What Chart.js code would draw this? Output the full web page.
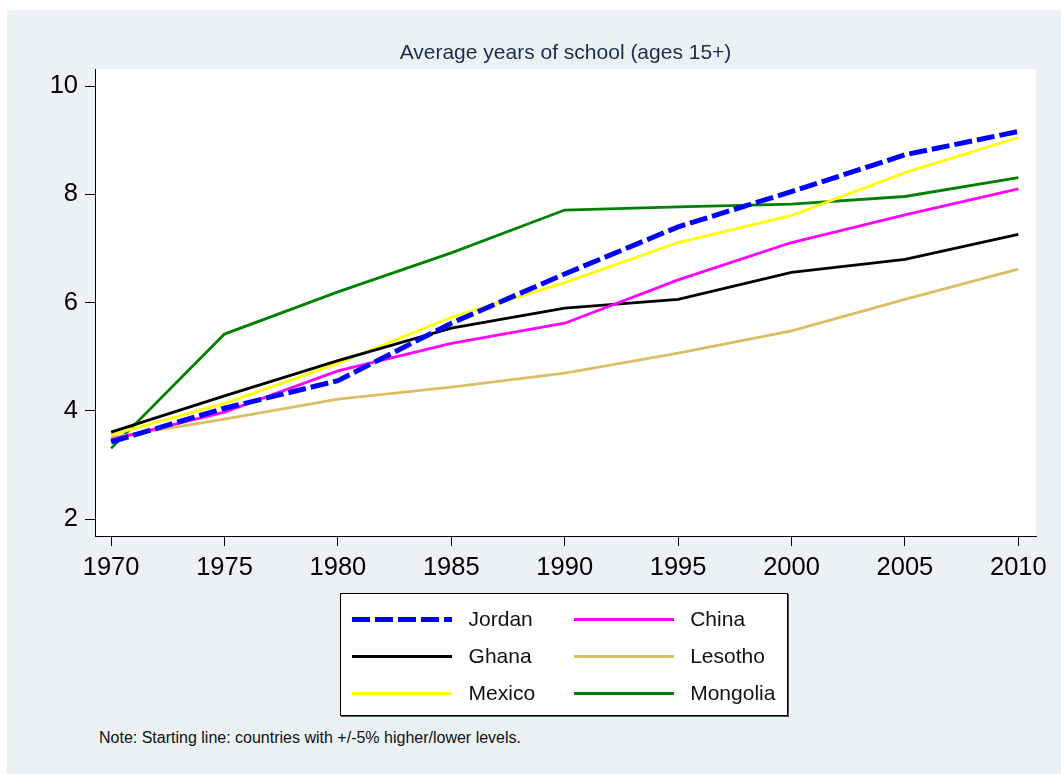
<!DOCTYPE html>
<html>
<head>
<meta charset="utf-8">
<title>Average years of school (ages 15+)</title>
<script src="https://cdn.jsdelivr.net/npm/chart.js@4.4.1/dist/chart.umd.min.js"></script>
<style>
    html, body { margin: 0; padding: 0; background: #ffffff; overflow: hidden; }
    body { width: 1061px; height: 774px; position: relative; font-family: 'Liberation Sans', Arial, sans-serif; }
    #frame { position: absolute; left: 7px; top: 10px; right: 0; bottom: 0; background: #eaf2f3; }
    #wrap { position: absolute; left: 0; top: 0; width: 1061px; height: 600px; }
    #legend {
        position: absolute; left: 340px; top: 593px; width: 435px; height: 114.5px;
        background: #ffffff; border: 1px solid #000000; box-shadow: 1px 1px 0 #555555;
        display: grid; grid-template-columns: 116.6px 105px 116.6px auto; grid-auto-rows: 37px;
        padding: 6.5px 0 0 11px; box-sizing: content-box; align-items: center;
        color: #111111; font-size: 21px;
    }
    #legend .sample { width: 100px; }
    #note { position: absolute; left: 99px; top: 729px; font-size: 16px; line-height: 18px; color: #111111; }
</style>
</head>
<body>
<div id="frame"></div>
<div id="wrap"><canvas id="chart"></canvas></div>
<div id="legend"></div>
<div id="note">Note: Starting line: countries with +/-5% higher/lower levels.</div>

<script>
// Average years of schooling, population aged 15+.
const YEARS = [1970, 1975, 1980, 1985, 1990, 1995, 2000, 2005, 2010];
const Y_TICKS = [2, 4, 6, 8, 10];

const JORDAN   = [3.43, 4.05, 4.56, 5.62, 6.53, 7.40, 8.05, 8.73, 9.16];
const CHINA    = [3.47, 3.98, 4.74, 5.25, 5.62, 6.42, 7.11, 7.62, 8.10];
const GHANA    = [3.61, 4.28, 4.93, 5.53, 5.90, 6.06, 6.56, 6.80, 7.26];
const LESOTHO  = [3.51, 3.85, 4.22, 4.44, 4.70, 5.07, 5.48, 6.06, 6.62];
const MEXICO   = [3.56, 4.14, 4.88, 5.73, 6.37, 7.11, 7.61, 8.40, 9.05];
const MONGOLIA = [3.31, 5.42, 6.20, 6.92, 7.71, 7.77, 7.82, 7.96, 8.31];

const COUNTRIES = ['Jordan', 'China', 'Ghana', 'Lesotho', 'Mexico', 'Mongolia'];
const SERIES = [JORDAN, CHINA, GHANA, LESOTHO, MEXICO, MONGOLIA];
const COLORS = ['#0000ff', '#ff00ff', '#000000', '#d9be64', '#ffff00', '#008000'];

const FONT = "'Liberation Sans', Arial, sans-serif";
const AXIS = '#000000';

document.addEventListener('DOMContentLoaded', () => {
    if (typeof Chart === 'undefined') {
        console.warn('Chart.js failed to load.');
        return;
    }

    Chart.defaults.font.family = FONT;
    Chart.defaults.color = '#000000';

    // White plot region on top of the bluish graph region.
    const plotBackground = {
        id: 'plotBackground',
        beforeDraw(chart) {
            const { ctx, chartArea: a } = chart;
            ctx.save();
            ctx.fillStyle = '#ffffff';
            ctx.fillRect(a.left, a.top, a.right - a.left, a.bottom - a.top);
            ctx.restore();
        },
    };

    const datasets = COUNTRIES.map((name, i) => {
        const jordan = name === 'Jordan';
        return {
            label: name,
            data: YEARS.map((x, j) => ({ x, y: SERIES[i][j] })),
            borderColor: COLORS[i],
            backgroundColor: COLORS[i],
            borderWidth: jordan ? 5 : 2.8,
            borderDash: jordan ? [18, 5] : [],
            pointRadius: 0,
            tension: 0,
            order: jordan ? 0 : 1,
        };
    });

    const chart = new Chart(document.getElementById('chart'), {
        type: 'line',
        data: { datasets },
        plugins: [plotBackground],
        options: {
            responsive: true,
            maintainAspectRatio: false,
            animation: false,
            layout: { padding: { left: 0, right: 25, top: 0, bottom: 0 } },
            plugins: {
                legend: { display: false },
                tooltip: { enabled: false },
                title: {
                    display: true,
                    text: 'Average years of school (ages 15+)',
                    fullSize: false,
                    color: '#1c2c4c',
                    font: { size: 21, weight: 'normal', family: FONT },
                    padding: { top: 40.2, bottom: 3.6 },
                },
            },
            scales: {
                x: {
                    type: 'linear',
                    min: 1969.29,
                    max: 2010.78,
                    afterBuildTicks: s => { s.ticks = YEARS.map(v => ({ value: v })); },
                    afterFit: s => { s.height = 64; s.paddingLeft = 0; s.paddingRight = 0; },
                    grid: { drawOnChartArea: false, drawTicks: true, tickLength: 10, color: AXIS, lineWidth: 1 },
                    border: { display: true, color: AXIS, width: 1 },
                    ticks: { color: '#000000', font: { size: 25.5 }, padding: 7, maxRotation: 0, callback: v => String(v) },
                },
                y: {
                    min: 1.692,
                    max: 10.314,
                    afterBuildTicks: s => { s.ticks = Y_TICKS.map(v => ({ value: v })); },
                    afterFit: s => { s.width = 95; s.paddingTop = 0; s.paddingBottom = 0; },
                    grid: { drawOnChartArea: false, drawTicks: true, tickLength: 10, color: AXIS, lineWidth: 1 },
                    border: { display: true, color: AXIS, width: 1 },
                    ticks: { color: '#000000', font: { size: 25.5 }, padding: 7, callback: v => String(v) },
                },
            },
        },
    });

    // Two-column legend box under the plot, built from the chart's datasets.
    const legend = document.getElementById('legend');
    chart.data.datasets.forEach(ds => {
        const cell = document.createElement('div');
        const sample = document.createElement('div');
        sample.className = 'sample';
        sample.style.height = ds.borderWidth >= 4 ? '5px' : '3px';
        if (ds.borderDash.length) {
            const [on, off] = ds.borderDash;
            sample.style.background = `repeating-linear-gradient(to right, ${ds.borderColor} 0 ${on}px, transparent ${on}px ${on + off}px)`;
        } else {
            sample.style.background = ds.borderColor;
        }
        cell.appendChild(sample);
        const label = document.createElement('div');
        label.textContent = ds.label;
        legend.appendChild(cell);
        legend.appendChild(label);
    });
});
</script>
</body>
</html>
